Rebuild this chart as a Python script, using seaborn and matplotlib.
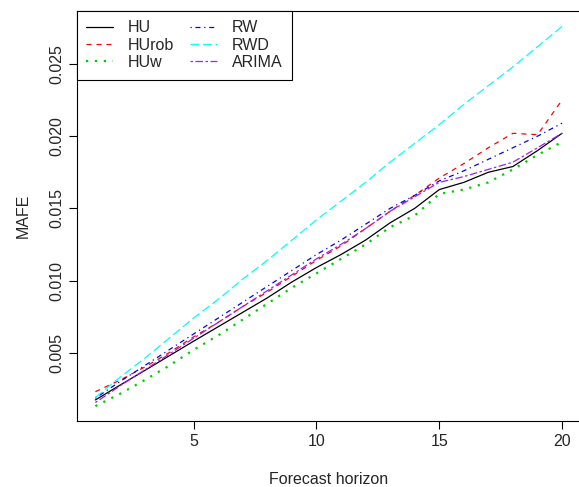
import numpy as np
import pandas as pd
import matplotlib
matplotlib.use("Agg")
import matplotlib.pyplot as plt
import seaborn as sns

# ---------- Datos ----------
horizon = list(range(1, 21))
hu = [0.00173, 0.00275, 0.00376, 0.00478, 0.0058, 0.0068, 0.0078, 0.0088, 0.0099, 0.0109,
      0.0118, 0.0128, 0.0140, 0.0150, 0.0163, 0.0168, 0.0175, 0.0179, 0.0190, 0.0202]
hurob = [0.0023, 0.0031, 0.0040, 0.0050, 0.0061, 0.0071, 0.0082, 0.0092, 0.0103, 0.0114,
         0.0124, 0.0136, 0.0148, 0.0159, 0.0171, 0.0181, 0.0192, 0.0202, 0.0201, 0.0225]
huw = [0.0013, 0.00215, 0.0031, 0.0041, 0.0052, 0.0062, 0.0073, 0.0084, 0.0095, 0.0105,
       0.0115, 0.0125, 0.0137, 0.0145, 0.0160, 0.0163, 0.0168, 0.0177, 0.0187, 0.0196]
rw = [0.00185, 0.0030, 0.0041, 0.0052, 0.0063, 0.0074, 0.0085, 0.0096, 0.0107, 0.0118,
      0.0128, 0.0139, 0.0150, 0.0159, 0.0169, 0.0176, 0.0184, 0.0192, 0.0200, 0.0209]
rwd = [0.0019, 0.0033, 0.0046, 0.0060, 0.0074, 0.0087, 0.0101, 0.0114, 0.0128, 0.0142,
       0.0155, 0.0168, 0.0182, 0.0195, 0.0208, 0.0222, 0.0235, 0.0248, 0.0262, 0.0276]
arima = [0.00155, 0.0027, 0.0038, 0.0049, 0.0060, 0.0071, 0.0082, 0.0093, 0.0104, 0.0115,
         0.0125, 0.0136, 0.0148, 0.0158, 0.0168, 0.0172, 0.0177, 0.0182, 0.0192, 0.0202]

labels = ["HU", "HUrob", "HUw", "RW", "RWD", "ARIMA"]
series = [hu, hurob, huw, rw, rwd, arima]
colors = ["black", "#FF0000", "#00CD00", "#0000FF", "#00FFFF", "#A020F0"]
styles = ["-", (0, (4, 4)), (0, (1, 3)), (0, (1, 3, 4, 3)), (0, (7, 3)), (0, (2, 2, 6, 2))]
widths = [0.9, 0.9, 1.6, 0.9, 0.9, 0.9]

# ---------- Estilo ----------
sns.set_style("white")
plt.rcParams["font.family"] = ["Liberation Sans", "DejaVu Sans"]
plt.rcParams["font.size"] = 11.5

fig = plt.figure(figsize=(5.79, 4.87), dpi=100)
ax = fig.add_axes([0.1325, 0.1355, 1.003 - 0.1325, 0.978 - 0.1355])

for lab, vals, col, ls, lw in zip(labels, series, colors, styles, widths):
    sns.lineplot(x=horizon, y=vals, color=col, linestyle=ls, linewidth=lw,
                 label=lab, ax=ax)

ax.set_xlim(0.24, 20.76)
ax.set_ylim(0.00027, 0.02869)
ax.set_xticks([5, 10, 15, 20])
ax.set_yticks([0.005, 0.010, 0.015, 0.020, 0.025])
ax.set_yticklabels(["0.005", "0.010", "0.015", "0.020", "0.025"], rotation=90, va="center")
ax.tick_params(axis="both", direction="out", length=6, width=0.8, color="black",
               labelsize=11.5, pad=3, left=True, bottom=True)
for s in ax.spines.values():
    s.set_color("black")
    s.set_linewidth(0.8)
ax.spines["right"].set_visible(False)

ax.set_xlabel("Forecast horizon", fontsize=11.5, labelpad=17)
ax.set_ylabel("MAFE", fontsize=11.5, labelpad=13)

leg = ax.legend(ncol=2, loc="upper left", borderaxespad=0, fancybox=False,
                frameon=True, edgecolor="black", handlelength=1.7,
                handletextpad=0.9, columnspacing=1.0, labelspacing=0.15,
                borderpad=0.6, fontsize=11.5)
leg.get_frame().set_linewidth(0.8)
leg.get_frame().set_alpha(1)

fig.savefig("out.png", dpi=100)
plt.close(fig)
